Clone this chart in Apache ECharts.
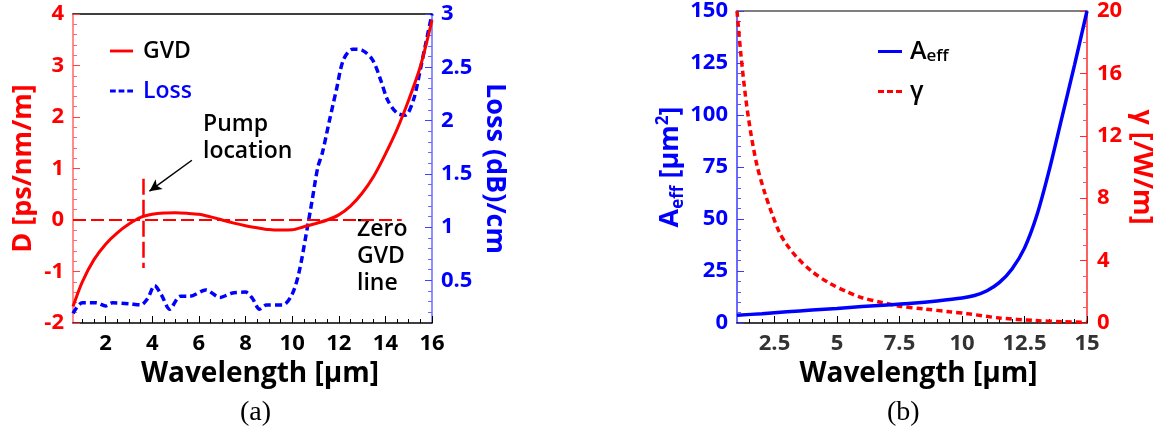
<!DOCTYPE html>
<html>
<head>
<meta charset="utf-8">
<script src="https://cdn.jsdelivr.net/npm/echarts@6/dist/echarts.min.js"></script>
<style>
  html, body { margin: 0; padding: 0; background: #fff; }
  #chart { width: 1162px; height: 436px; }
</style>
</head>
<body>
<div id="chart"></div>
<script>
// (a) Group-velocity dispersion and propagation loss vs wavelength
const GVD_WL = [0.6, 1.0, 1.5, 2.0, 2.5, 3.0, 3.5, 4.0, 4.5, 5.0, 5.5, 6.0, 6.5, 7.0, 7.5, 8.0,
  8.5, 9.0, 9.5, 10.0, 10.5, 11.0, 11.5, 12.0, 12.5, 13.0, 13.5, 14.0, 14.5, 15.0, 15.5, 16.0];
const GVD_D = [-1.68, -1.2, -0.77, -0.47, -0.25, -0.08, 0.05, 0.11, 0.135, 0.14, 0.13, 0.11, 0.06, 0.0,
  -0.06, -0.11, -0.15, -0.185, -0.195, -0.19, -0.13, -0.07, 0.0, 0.1, 0.27, 0.52, 0.85, 1.28, 1.76,
  2.33, 2.98, 3.88];

const LOSS_WL = [0.6, 1.0, 1.6, 2.0, 2.3, 3.0, 3.5, 3.8, 4.1, 4.4, 4.75, 5.2, 5.6, 6.3, 6.9, 7.4,
  8.0, 8.3, 8.6, 8.9, 9.6, 10.0, 10.3, 10.6, 10.85, 11.1, 11.3, 11.6, 11.9, 12.2, 12.6, 13.0, 13.45,
  13.8, 14.1, 14.5, 14.85, 15.2, 15.5, 15.7, 16.0];
const LOSS_DB = [0.19, 0.29, 0.29, 0.26, 0.29, 0.28, 0.27, 0.33, 0.45, 0.36, 0.23, 0.35, 0.35, 0.41,
  0.34, 0.38, 0.39, 0.33, 0.23, 0.27, 0.27, 0.37, 0.58, 0.93, 1.24, 1.56, 1.7, 2.0, 2.29, 2.57, 2.67,
  2.66, 2.57, 2.38, 2.19, 2.07, 2.05, 2.19, 2.48, 2.69, 3.0];

const PUMP_WL = 3.6;          // pump wavelength marker
const PUMP_SPAN = [0.8, -0.93];
const ZERO_LINE_END = 14.7;
const ARROW_FROM = [5.7, 1.16];
const ARROW_TO = [3.88, 0.56];

const A_TICKS = [2, 4, 6, 8, 10, 12, 14, 16];
const A_MINOR = [1, 1.5, 2.5, 3, 3.5, 4.5, 5, 5.5, 6.5, 7, 7.5, 8.5, 9, 9.5, 10.5, 11, 11.5, 12.5, 13, 13.5, 14.5, 15, 15.5];
const LOSS_TICKS = [0.5, 1, 1.5, 2, 2.5, 3];
const LOSS_MINOR = [0.2, 0.3, 0.4, 0.6, 0.7, 0.8, 0.9, 1.1, 1.2, 1.3, 1.4, 1.6, 1.7, 1.8, 1.9, 2.1, 2.2, 2.3, 2.4, 2.6, 2.7, 2.8, 2.9];

// (b) Effective mode area and nonlinear coefficient vs wavelength
const AEFF_WL = [1.0, 2.0, 3.0, 4.0, 5.0, 6.0, 7.0, 8.0, 9.0, 10.0, 10.5, 11.0, 11.5, 12.0, 12.5, 13.0, 13.5, 14.0, 14.5, 15.0];
const AEFF = [3.7, 4.5, 5.4, 6.2, 7.0, 7.9, 8.7, 9.5, 10.6, 12.0, 13.2, 15.5, 19.5, 26, 36, 52, 74, 99, 124, 150];

const GAMMA_WL = [1.0, 1.15, 1.35, 1.55, 1.8, 2.1, 2.4, 2.7, 3.0, 3.4, 4.0, 4.7, 5.4, 6.0, 6.7, 7.5, 8.5, 9.5, 10.2, 11.5, 12.9, 14.0, 15.0];
const GAMMA = [20, 17.3, 14.4, 12.2, 10.1, 8.4, 7.0, 5.8, 5.0, 4.2, 3.3, 2.55, 2.0, 1.62, 1.35, 1.08, 0.9, 0.72, 0.6, 0.32, 0.16, 0.08, 0.05];

const B_TICKS = [2.5, 5, 7.5, 10, 12.5, 15];
const B_MINOR = [1.5, 2, 3, 3.5, 4, 4.5, 5.5, 6, 6.5, 7, 8, 8.5, 9, 9.5, 10.5, 11, 11.5, 12, 13, 13.5, 14, 14.5];

const zip = (xs, ys) => xs.map((x, i) => [x, ys[i]]);

const FONT = 'Open Sans';
const RED = '#ff0000';
const BLUE = '#0000ff';

// legend swatches: a solid bar and a three-dash bar
const ICON_SOLID = 'path://M0,0h24v3h-24z';
const ICON_DASHED = 'path://M0,0h6v3h-6z M9,0h6v3h-6z M18,0h6v3h-6z';

const chart = echarts.init(document.getElementById('chart'), null, { renderer: 'canvas' });

function minorX(grid, values) {
  return {
    type: 'value', gridIndex: grid, position: 'bottom',
    min: grid === 0 ? 0.6 : 1, max: grid === 0 ? 16 : 15,
    axisLine: { show: false, onZero: false }, axisLabel: { show: false }, splitLine: { show: false },
    axisTick: { show: true, inside: true, length: 4, customValues: values, lineStyle: { color: '#000', width: 1 } }
  };
}
function topBorder(grid, color) {
  return {
    type: 'value', gridIndex: grid, position: 'top',
    min: grid === 0 ? 0.6 : 1, max: grid === 0 ? 16 : 15,
    axisLine: { show: true, onZero: false, lineStyle: { color: color, width: 1.5 } },
    axisTick: { show: false }, axisLabel: { show: false }, splitLine: { show: false }
  };
}
const labelFont = (color) => ({ color: color, fontFamily: FONT, fontWeight: 'bold', fontSize: 22 });
const nameFont = (color) => ({ color: color, fontFamily: FONT, fontWeight: 'bold', fontSize: 27 });
const legendText = (color) => ({ color: color, fontFamily: FONT, fontWeight: 600, fontSize: 23, lineHeight: 26, padding: [0, 0, 0, 5] });

chart.setOption({
  animation: false,
  backgroundColor: '#fff',
  grid: [
    { left: 73, right: 730, top: 14, bottom: 113 },
    { left: 737, right: 75, top: 11, bottom: 113 }
  ],
  xAxis: [
    {
      type: 'value', gridIndex: 0, position: 'bottom', min: 0.6, max: 16,
      axisLine: { onZero: false, lineStyle: { color: '#000', width: 1.5 } },
      axisTick: { inside: true, length: 7, customValues: A_TICKS, lineStyle: { color: '#000' } },
      axisLabel: Object.assign({ customValues: A_TICKS, margin: 10 }, labelFont('#000')),
      splitLine: { show: false },
      name: 'Wavelength [μm]', nameLocation: 'middle', nameGap: 33,
      nameTextStyle: Object.assign({ padding: [0, 0, 0, 15] }, nameFont('#000'), { fontSize: 28 })
    },
    minorX(0, A_MINOR),
    topBorder(0, '#000'),
    {
      type: 'value', gridIndex: 1, position: 'bottom', min: 1, max: 15,
      axisLine: { onZero: false, lineStyle: { color: '#000', width: 1.5 } },
      axisTick: { inside: true, length: 7, customValues: B_TICKS, lineStyle: { color: '#000' } },
      axisLabel: Object.assign({ customValues: B_TICKS, margin: 10 }, labelFont('#333')),
      splitLine: { show: false },
      name: 'Wavelength [μm]', nameLocation: 'middle', nameGap: 33,
      nameTextStyle: Object.assign({ padding: [0, 0, 0, 13] }, nameFont('#000'), { fontSize: 28 })
    },
    minorX(1, B_MINOR),
    topBorder(1, '#555')
  ],
  yAxis: [
    {
      type: 'value', gridIndex: 0, position: 'left', min: -2, max: 4, interval: 1,
      axisLine: { show: true, onZero: false, lineStyle: { color: '#ff6a6a', width: 1.5 } },
      axisTick: { show: true, inside: true, length: 7, lineStyle: { color: '#ff4040' } },
      minorTick: { show: true, splitNumber: 5, length: 4, lineStyle: { color: '#ff6a6a' } },
      axisLabel: Object.assign({ margin: 9 }, labelFont(RED)),
      splitLine: { show: false },
      name: 'D [ps/nm/m]', nameLocation: 'middle', nameGap: 36, nameRotate: 90,
      nameTextStyle: nameFont(RED)
    },
    {
      type: 'value', gridIndex: 0, position: 'right', min: 0.1, max: 3,
      axisLine: { show: true, onZero: false, lineStyle: { color: '#6a6aff', width: 1.5 } },
      axisTick: { show: true, inside: true, length: 7, customValues: LOSS_TICKS, lineStyle: { color: '#4040ff' } },
      axisLabel: Object.assign({ margin: 9, customValues: LOSS_TICKS }, labelFont(BLUE)),
      splitLine: { show: false },
      name: 'Loss (dB)/cm', nameLocation: 'middle', nameGap: 49, nameRotate: -90,
      nameTextStyle: nameFont(BLUE)
    },
    {
      type: 'value', gridIndex: 0, position: 'right', min: 0.1, max: 3,
      axisLine: { show: false, onZero: false }, axisLabel: { show: false }, splitLine: { show: false },
      axisTick: { show: true, inside: true, length: 4, customValues: LOSS_MINOR, lineStyle: { color: '#6a6aff' } }
    },
    {
      type: 'value', gridIndex: 1, position: 'left', min: 0, max: 150, interval: 25,
      axisLine: { show: true, onZero: false, lineStyle: { color: '#3a3aff', width: 1.5 } },
      axisTick: { show: true, inside: true, length: 7, lineStyle: { color: '#3a3aff' } },
      minorTick: { show: true, splitNumber: 5, length: 4, lineStyle: { color: '#5a5aff' } },
      axisLabel: Object.assign({ margin: 9 }, labelFont(BLUE)),
      splitLine: { show: false },
      name: '{a|A}{s|eff}{a| [μm}{p|2}{a|]}', nameLocation: 'middle', nameGap: 50, nameRotate: 90,
      nameTextStyle: {
        color: BLUE, fontFamily: FONT, fontWeight: 'bold', fontSize: 27,
        rich: {
          a: { color: BLUE, fontFamily: FONT, fontWeight: 'bold', fontSize: 27, lineHeight: 32 },
          s: { color: BLUE, fontFamily: FONT, fontWeight: 'bold', fontSize: 17, lineHeight: 17, verticalAlign: 'bottom' },
          p: { color: BLUE, fontFamily: FONT, fontWeight: 'bold', fontSize: 17, lineHeight: 17, verticalAlign: 'top' }
        }
      }
    },
    {
      type: 'value', gridIndex: 1, position: 'right', min: 0, max: 20, interval: 4,
      axisLine: { show: true, onZero: false, lineStyle: { color: '#ff2a2a', width: 1.5 } },
      axisTick: { show: true, inside: true, length: 7, lineStyle: { color: '#ff2a2a' } },
      minorTick: { show: true, splitNumber: 4, length: 4, lineStyle: { color: '#ff5a5a' } },
      axisLabel: Object.assign({ margin: 10 }, labelFont(RED)),
      splitLine: { show: false },
      name: 'γ [/W/m]', nameLocation: 'middle', nameGap: 41, nameRotate: -90,
      nameTextStyle: nameFont(RED)
    }
  ],
  legend: [
    {
      left: 105, top: 33, orient: 'vertical', itemWidth: 23, itemHeight: 3, itemGap: 14,
      textStyle: legendText('#000'),
      data: [
        { name: 'GVD', icon: ICON_SOLID, itemStyle: { color: RED }, textStyle: legendText('#000') },
        { name: 'Loss', icon: ICON_DASHED, itemStyle: { color: BLUE }, textStyle: legendText(BLUE) }
      ]
    },
    {
      left: 873, top: 34, orient: 'vertical', itemWidth: 24, itemHeight: 3, itemGap: 14,
      formatter: (n) => n === 'Aeff' ? '{a|A}{s|eff}' : '{a|' + n + '}',
      textStyle: {
        fontFamily: FONT, fontWeight: 600, fontSize: 23, color: '#000', padding: [0, 0, 0, 3],
        rich: {
          a: { fontFamily: FONT, fontWeight: 600, fontSize: 25, color: '#000', lineHeight: 27 },
          s: { fontFamily: FONT, fontWeight: 600, fontSize: 17, color: '#000', lineHeight: 16, verticalAlign: 'bottom' }
        }
      },
      data: [
        { name: 'Aeff', icon: ICON_SOLID, itemStyle: { color: BLUE } },
        { name: 'γ', icon: ICON_DASHED, itemStyle: { color: RED } }
      ]
    }
  ],
  series: [
    {
      name: 'GVD', type: 'line', xAxisIndex: 0, yAxisIndex: 0,
      data: zip(GVD_WL, GVD_D), smooth: 0.3, symbol: 'none',
      lineStyle: { color: RED, width: 3 }, itemStyle: { color: RED }, z: 3,
      markLine: {
        silent: true, symbol: ['none', 'none'], label: { show: false },
        data: [
          [{ coord: [0.6, 0], lineStyle: { color: RED, width: 2, type: [13, 5] } }, { coord: [ZERO_LINE_END, 0] }],
          [{ coord: [PUMP_WL, PUMP_SPAN[0]], lineStyle: { color: RED, width: 2.5, type: [16, 5] } }, { coord: [PUMP_WL, PUMP_SPAN[1]] }],
          [{ coord: ARROW_FROM, symbol: 'none', lineStyle: { color: '#000', width: 1.5, type: 'solid' } },
           { coord: ARROW_TO, symbol: 'arrow', symbolSize: [9, 12] }]
        ]
      }
    },
    {
      name: 'Loss', type: 'line', xAxisIndex: 0, yAxisIndex: 1,
      data: zip(LOSS_WL, LOSS_DB), smooth: 0.3, symbol: 'none',
      lineStyle: { color: BLUE, width: 3.5, type: [7, 4] }, itemStyle: { color: BLUE }, z: 2
    },
    {
      name: 'Aeff', type: 'line', xAxisIndex: 3, yAxisIndex: 3,
      data: zip(AEFF_WL, AEFF), smooth: 0.3, symbol: 'none',
      lineStyle: { color: BLUE, width: 3.5 }, itemStyle: { color: BLUE }, z: 3
    },
    {
      name: 'γ', type: 'line', xAxisIndex: 3, yAxisIndex: 4,
      data: zip(GAMMA_WL, GAMMA), smooth: 0.3, symbol: 'none',
      lineStyle: { color: RED, width: 3.5, type: [6, 4] }, itemStyle: { color: RED }, z: 2
    }
  ],
  graphic: [
    { type: 'text', left: 203, top: 111, style: { text: 'Pump\nlocation', font: '600 23px "Open Sans"', fill: '#000', lineHeight: 27 } },
    { type: 'text', left: 357, top: 216, style: { text: 'Zero\nGVD\nline', font: '600 23px "Open Sans"', fill: '#000', lineHeight: 27 } },
    { type: 'text', left: 240, top: 399, style: { text: '(a)', font: '28px "Liberation Serif"', fill: '#000' } },
    { type: 'text', left: 887, top: 399, style: { text: '(b)', font: '28px "Liberation Serif"', fill: '#000' } }
  ]
});
</script>
</body>
</html>
